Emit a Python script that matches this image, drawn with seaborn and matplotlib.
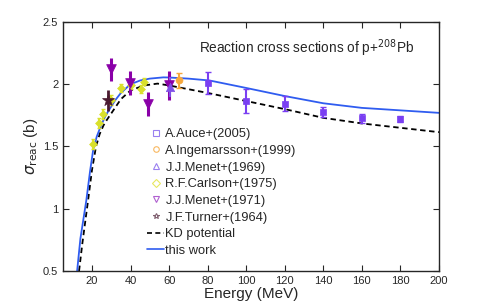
import numpy as np
import pandas as pd
import matplotlib
matplotlib.use('Agg')
import matplotlib.pyplot as plt
from matplotlib.lines import Line2D
import seaborn as sns

#Experimental data (energy MeV, sigma b, error b)
auce_e = [80, 100, 120, 140, 160, 180]
auce_s = [2.01, 1.865, 1.845, 1.78, 1.725, 1.72]
auce_err = [0.09, 0.094, 0.06, 0.04, 0.036, 0.025]

ingem_e = [65.3]
ingem_s = [2.03]
ingem_err = [0.06]

menet69_e = [60.5]
menet69_s = [1.98]
menet69_err = [0.08]

carlson_e = [20.7, 23.4, 25.6, 30.0, 35.0, 40.0, 45.3, 47.0]
carlson_s = [1.52, 1.69, 1.76, 1.87, 1.97, 1.99, 1.96, 2.02]
carlson_err = [0.04, 0.04, 0.04, 0.04, 0.03, 0.03, 0.03, 0.03]

menet71_e = [29.7, 39.7, 49.3, 60.0]
menet71_s = [2.12, 2.01, 1.84, 1.99]
menet71_err = [0.094, 0.094, 0.094, 0.12]

turner_e = [28.5]
turner_s = [1.87]
turner_err = [0.087]

#Model curves
kd_e = [13.3, 15, 18, 20, 22.1, 24, 26, 28, 30.2, 35, 40, 47, 54, 60, 70, 80, 100, 120, 140, 160, 180, 200]
kd_s = [0.5, 0.72, 1.07, 1.31, 1.50, 1.60, 1.67, 1.72, 1.77, 1.88, 1.95, 1.99, 2.005, 1.99, 1.96, 1.93, 1.865, 1.80, 1.73, 1.685, 1.65, 1.615]
tw_e = [12.3, 14, 17.1, 19, 20.7, 22.5, 24.5, 26.5, 28.5, 32, 35, 40, 45, 50, 57, 60, 70, 81, 100, 120, 140, 160, 180, 200]
tw_s = [0.5, 0.76, 1.07, 1.30, 1.48, 1.58, 1.66, 1.73, 1.785, 1.87, 1.93, 2.0, 2.03, 2.045, 2.055, 2.054, 2.045, 2.03, 1.97, 1.905, 1.847, 1.81, 1.79, 1.77]

sns.set_style("ticks")
plt.rcParams['font.family'] = ['Liberation Sans', 'DejaVu Sans']

fig = plt.figure(figsize=(4.85, 3.05), dpi=100)
ax = fig.add_axes([0.13, 0.1115, 0.775, 0.8165])

#Curves
df_kd = pd.DataFrame({'E': kd_e, 's': kd_s})
df_tw = pd.DataFrame({'E': tw_e, 's': tw_s})
sns.lineplot(data=df_kd, x='E', y='s', ax=ax, color='black', linestyle=(0, (3, 2)), linewidth=1.3)
sns.lineplot(data=df_tw, x='E', y='s', ax=ax, color='#2f5cf0', linewidth=1.3)

#Data sets: (e, s, err, marker, color, marker size, lw, cap)
sets = [
    (carlson_e, carlson_s, carlson_err, 'D', '#d9e02c', 4, 1.5, 1.5),
    (auce_e, auce_s, auce_err, 's', '#7a3ff2', 5, 1.5, 2),
    (ingem_e, ingem_s, ingem_err, 'o', '#f7a83c', 5, 1.5, 2),
    (menet71_e, menet71_s, menet71_err, 'v', '#8a00a8', 7, 2.2, 0),
    (menet69_e, menet69_s, menet69_err, '^', '#8050e8', 6, 1.5, 0),
    (turner_e, turner_s, turner_err, '*', '#4a1a30', 9, 2.0, 0),
]
for e, s, err, m, c, ms, lw, cap in sets:
    ax.errorbar(e, s, yerr=err, fmt='none', ecolor=c, elinewidth=lw, capsize=cap, capthick=1)
    sns.scatterplot(x=e, y=s, ax=ax, marker=m, color=c, s=ms ** 2, edgecolor=c, linewidth=0.5, zorder=5)

ax.set_xlim(5, 200)
ax.set_ylim(0.5, 2.5)
ax.set_xticks(np.arange(20, 201, 20))
ax.set_yticks([0.5, 1, 1.5, 2, 2.5])
ax.set_yticklabels(['0.5', '1', '1.5', '2', '2.5'])
ax.tick_params(direction='in', top=True, right=True, labelsize=8, length=4, width=0.8)
for sp in ax.spines.values():
    sp.set_linewidth(1.0)
ax.set_xlabel('Energy (MeV)', fontsize=11, labelpad=1)
ax.set_ylabel(r'$\sigma_{\rm reac}$ (b)', fontsize=11, labelpad=2)

ax.text(0.362, 0.893, r'Reaction cross sections of p+$^{208}$Pb', transform=ax.transAxes, fontsize=9.8, ha='left', va='center')

#Legend with hollow markers
order = [('s', '#9a80f0', 'A.Auce+(2005)'), ('o', '#f8b860', 'A.Ingemarsson+(1999)'),
         ('^', '#9a80f0', 'J.J.Menet+(1969)'), ('D', '#e8e860', 'R.F.Carlson+(1975)'),
         ('v', '#b060d0', 'J.J.Menet+(1971)'), ('*', '#806070', 'J.F.Turner+(1964)')]
handles = [Line2D([], [], linestyle='none', marker=m, markersize=4, mfc='none', mec=c, mew=0.8, label=l) for m, c, l in order]
handles.append(Line2D([], [], color='black', linestyle=(0, (3, 2)), linewidth=1.2, label='KD potential'))
handles.append(Line2D([], [], color='#2f5cf0', linewidth=1.2, label='this work'))
ax.legend(handles=handles, loc='upper left', bbox_to_anchor=(0.2, 0.61), frameon=False, fontsize=9.3,
          handlelength=1.3, handletextpad=0.1, labelspacing=0.36, borderpad=0.2)

fig.savefig('out.png', dpi=100)
